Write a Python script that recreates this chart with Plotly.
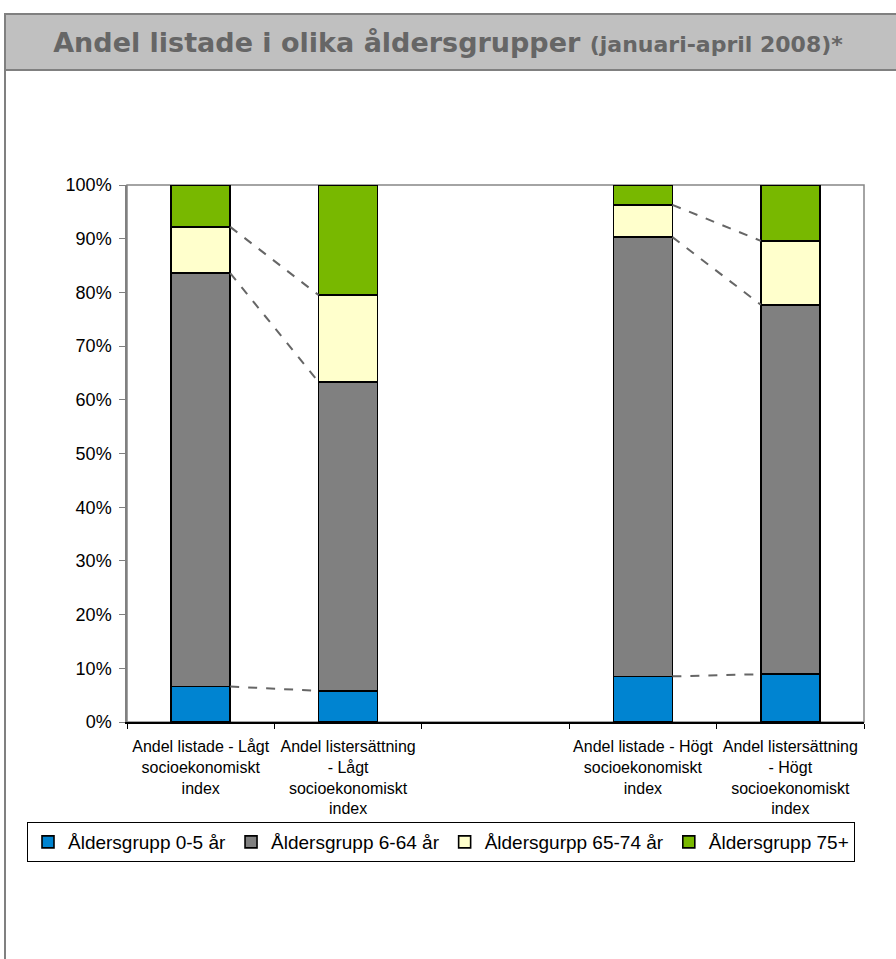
import plotly.graph_objects as go

# ---- data ----
categories = [
    "Andel listade - Lågt<br>socioekonomiskt<br>index",
    "Andel listersättning<br>- Lågt<br>socioekonomiskt<br>index",
    "",
    "Andel listade - Högt<br>socioekonomiskt<br>index",
    "Andel listersättning<br>- Högt<br>socioekonomiskt<br>index",
]
series_names = ["Åldersgrupp 0-5 år", "Åldersgrupp 6-64 år", "Åldersgurpp 65-74 år", "Åldersgrupp 75+"]
age_0_5 = [6.6, 5.8, None, 8.5, 8.9]
age_6_64 = [77.0, 57.5, None, 81.8, 68.8]
age_65_74 = [8.6, 16.2, None, 6.0, 11.9]
age_75 = [7.8, 20.5, None, 3.7, 10.4]
y_ticks = [0, 10, 20, 30, 40, 50, 60, 70, 80, 90, 100]

colors = ["#0084D1", "#808080", "#FFFFCC", "#78B800"]
BAR_W = 0.4

W, H = 896, 959
L, R, T, B = 127, 32, 185, 237
pw, ph = W - L - R, H - T - B

def px_x(p):
    return (p - L) / pw

def px_y(p):
    return (H - B - p) / ph

fig = go.Figure()
xs = list(range(len(categories)))
all_series = [age_0_5, age_6_64, age_65_74, age_75]
for name, vals, col in zip(series_names, all_series, colors):
    fig.add_trace(go.Bar(
        x=xs, y=vals, name=name, width=BAR_W,
        marker=dict(color=col, line=dict(color="#000000", width=1.6)),
        hoverinfo="y+name",
    ))

# series lines (connect cumulative boundaries between neighbouring bars)
pairs = [(0, 1), (3, 4)]
lx, ly = [], []
for a, b in pairs:
    cum_a, cum_b = 0.0, 0.0
    for vals in all_series[:-1]:
        cum_a += vals[a]
        cum_b += vals[b]
        lx += [a + BAR_W / 2, b - BAR_W / 2, None]
        ly += [cum_a, cum_b, None]
fig.add_trace(go.Scatter(
    x=lx, y=ly, mode="lines", showlegend=False, hoverinfo="skip",
    line=dict(color="#666666", width=2, dash="dash"),
))

# frame: title bar and chart border
shapes = [
    dict(type="line", xref="paper", yref="paper",
         x0=px_x(5), x1=px_x(5), y0=px_y(70), y1=px_y(980),
         line=dict(color="#808080", width=2)),
    dict(type="rect", xref="paper", yref="paper",
         x0=px_x(5), x1=px_x(905), y0=px_y(14), y1=px_y(70),
         fillcolor="#C0C0C0", line=dict(color="#808080", width=2), layer="below"),
    dict(type="rect", xref="paper", yref="paper", x0=0, x1=1, y0=0, y1=1,
         line=dict(color="#868686", width=1.5), layer="below"),
]

fig.update_layout(
    width=W, height=H,
    margin=dict(l=L, r=R, t=T, b=B),
    paper_bgcolor="white", plot_bgcolor="white",
    barmode="stack",
    shapes=shapes,
    font=dict(family="Liberation Sans, Arial", color="#000000"),
    title=dict(
        text="Andel listade i olika åldersgrupper <span style='font-size:22px'>(januari-april 2008)*</span>",
        x=448 / W, xref="container", xanchor="center",
        y=1 - 43 / H, yref="container", yanchor="middle",
        font=dict(family="DejaVu Sans", size=27, color="#666666", weight="bold"),
    ),
    xaxis=dict(
        range=[-0.5, len(categories) - 0.5],
        tickmode="array", tickvals=xs, ticktext=categories,
        ticks="", showgrid=False, zeroline=False,
        showline=True, linecolor="#000000", linewidth=1.5,
        tickfont=dict(size=16, color="#000000"),
        ticklabelstandoff=9,
        minor=dict(ticks="outside", tick0=-0.5, dtick=1, ticklen=5,
                   tickcolor="#000000", tickwidth=1, showgrid=False),
    ),
    yaxis=dict(
        range=[0, 100], tickmode="array", tickvals=y_ticks,
        ticktext=[f"{v}%" for v in y_ticks],
        ticks="outside", ticklen=6, tickcolor="#808080",
        ticklabelstandoff=4,
        showgrid=False, zeroline=False,
        showline=True, linecolor="#808080", linewidth=1.5,
        tickfont=dict(size=18, color="#000000"),
    ),
    legend=dict(
        orientation="h", x=px_x(27), y=px_y(822), xanchor="left", yanchor="top",
        bordercolor="#000000", borderwidth=1,
        font=dict(size=19, color="#000000"),
        itemwidth=30, traceorder="normal", tracegroupgap=0,
    ),
    showlegend=True,
)

fig.write_html("out.html", config={"displayModeBar": False},
               post_script="document.body.style.margin='0';document.body.style.overflow='hidden';")
